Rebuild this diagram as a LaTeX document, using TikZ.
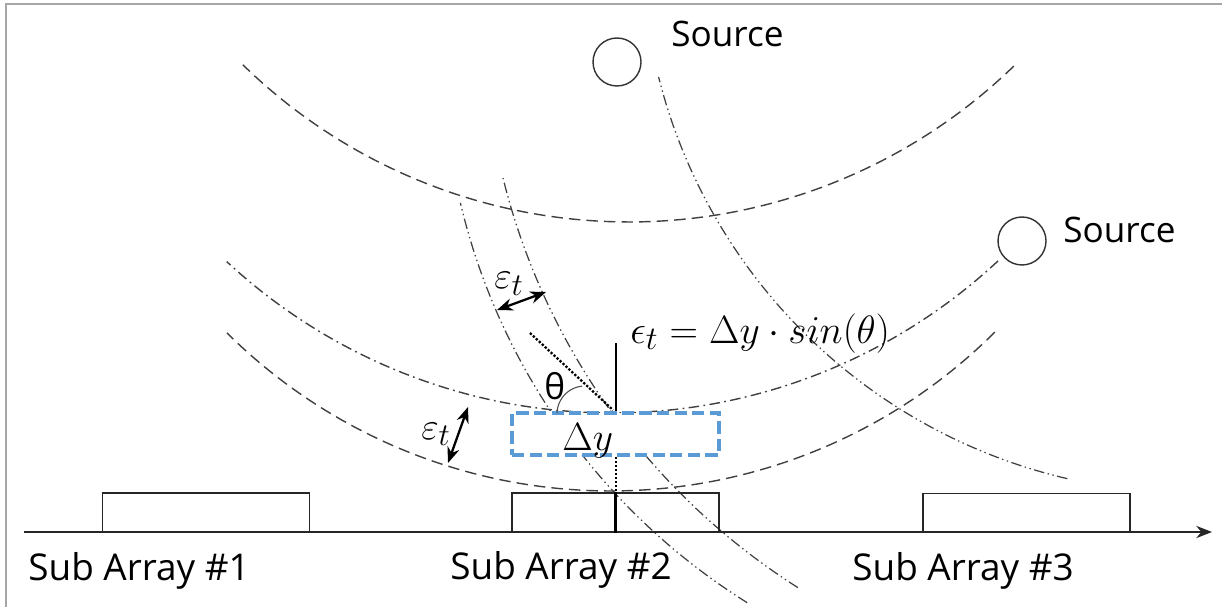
\documentclass[tikz,border=0pt]{standalone}
\usepackage{fontspec}
\setmainfont{Open Sans}
\usetikzlibrary{arrows.meta,positioning}

\begin{document}
\begin{tikzpicture}[x=0.02cm, y=-0.02cm, >={Stealth[length=9pt,width=7pt]}, font=\fontsize{20}{24}\selectfont]

% Styles
\tikzstyle{wave} = [draw=black!75, line width=0.8pt, dash pattern=on 6.5pt off 3.5pt]
\tikzstyle{wavedot} = [draw=black!75, line width=0.8pt, dash pattern=on 6pt off 2.5pt on 1pt off 2.5pt]
\tikzstyle{wavedotdot} = [draw=black!75, line width=0.7pt, dash pattern=on 6pt off 2pt on 0.8pt off 2pt on 0.8pt off 2pt]
\tikzstyle{subarray} = [draw=black!85, line width=0.8pt, rectangle, minimum width=4.14cm, minimum height=0.78cm, inner sep=0pt]
\tikzstyle{source} = [draw=black!80, line width=0.8pt, circle, minimum size=0.96cm, inner sep=0pt]
\tikzstyle{txt} = [inner sep=0pt, anchor=base west]
\tikzstyle{satxt} = [txt, font=\fontsize{21}{25}\selectfont]
\tikzstyle{mth} = [inner sep=0pt, anchor=base west, font=\fontsize{19}{23}\selectfont]

\useasboundingbox (0,0) rectangle (1222,607);

% Frame
\draw[gray!70, line width=1pt] (6,607) -- (6,4) -- (1222,4);

% Wave fronts
\draw[wave] plot[domain=45.9:134.3, samples=90] ({629+553*cos(\x)}, {-331+553*sin(\x)});
\draw[wavedot] plot[domain=47:132.9, samples=90] ({612+566*cos(\x)}, {-153+566*sin(\x)});
\draw[wave] plot[domain=45.1:134.8, samples=90] ({610.5+544.4*cos(\x)}, {-53.4+544.4*sin(\x)});
\draw[wavedotdot] plot[domain=103.1:165.9, samples=90] ({1192+550*cos(\x)}, {-57+550*sin(\x)});
\draw[wavedotdot] plot[domain=122:166.7, samples=90] ({1090+647*cos(\x)}, {54+647*sin(\x)});
\draw[wavedotdot] plot[domain=122.4:166.1, samples=90] ({1161.2+678.1*cos(\x)}, {15.1+678.1*sin(\x)});

% Sources
\node[source] (src1) at (617,62) {};
\node[txt] (srclab1) at (671,47) {Source};
\node[source] (src2) at (1022,241) {};
\node[txt] (srclab2) at (1063,243) {Source};

% Sub arrays
\coordinate (axl) at (24,532);
\coordinate (axr) at (1212,532);
\draw[->, black!85, line width=0.8pt] (axl) -- (axr);
\node[subarray] (sa1) at (206,512.5) {};
\node[subarray] (sa2) at (615.5,512.5) {};
\node[subarray] (sa3) at (1026.5,513) {};
\node[satxt] (salab1) at (28,580) {Sub Array \#1};
\node[satxt] (salab2) at (450,579) {Sub Array \#2};
\node[satxt] (salab3) at (852,580) {Sub Array \#3};

% Delta y box
\node[draw={rgb,255:red,91;green,155;blue,213}, fill=white, line width=2pt, dash pattern=on 7pt off 3pt,
      minimum width=4.14cm, minimum height=0.84cm, inner sep=0pt] (dybox) at (615.5,434) {};
\node[mth] (dylab) at (562,450) {\scalebox{1.3}{$\Delta y$}};

% Angle and projection
\coordinate (vtx) at (616,411);
\coordinate (vtop) at (616,343);
\coordinate (proj) at (530,333);
\draw[line width=1.2pt] (vtx) -- (vtop);
\draw[line width=1.3pt, densely dotted] (proj) -- (613,410);
\draw[black!70, line width=0.6pt] plot[domain=182:264, samples=30] ({585+28*cos(\x)}, {414+28*sin(\x)});
\node[txt] (thlab) at (544,399) {θ};
\node[mth] (eqlab) at (630,343) {\scalebox{1.3}{$\epsilon_t = \Delta y \cdot sin(\theta)$}};

\draw[line width=1.3pt, densely dotted] (dybox.south -| vtx) -- (sa2.north -| vtx);
\draw[line width=1.5pt] (sa2.north) -- (sa2.south);

% Widths
\coordinate (ea1) at (497,310);
\coordinate (ea2) at (546,292);
\draw[<->, line width=1.3pt] (ea1) -- (ea2);
\node[mth] (elab1) at (494,289) {\scalebox{1.25}{$\varepsilon_t$}};
\coordinate (eb1) at (468,407);
\coordinate (eb2) at (448,463);
\draw[<->, line width=1.3pt] (eb1) -- (eb2);
\node[mth] (elab2) at (421,439) {\scalebox{1.25}{$\varepsilon_t$}};

\end{tikzpicture}
\end{document}
